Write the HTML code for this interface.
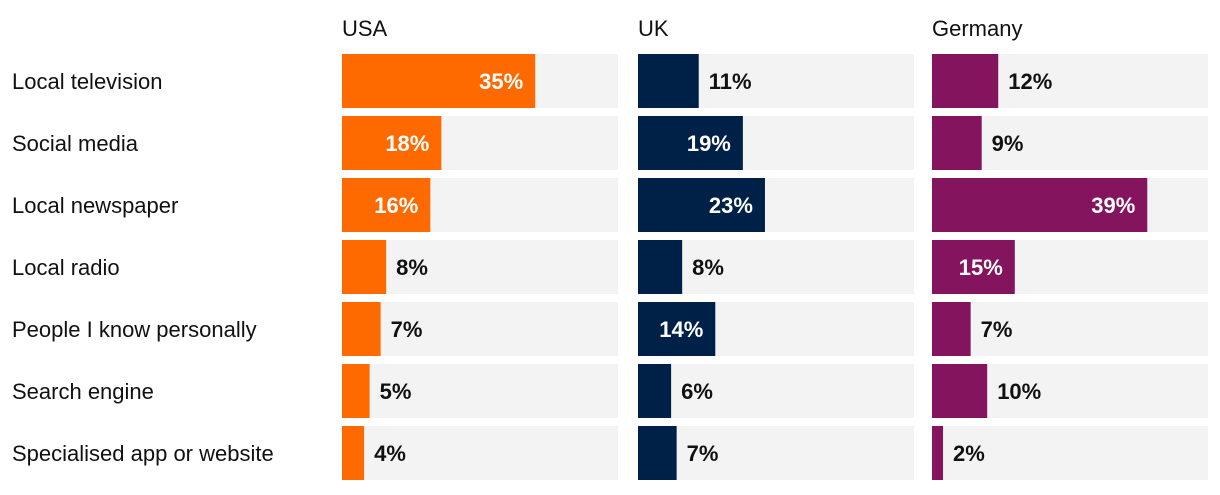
<!DOCTYPE html>
<html><head><meta charset="utf-8"><style>
body{margin:0;background:#fff;width:1220px;height:490px;overflow:hidden;font-family:"Liberation Sans",sans-serif}
svg text{font-family:"Liberation Sans",sans-serif}
</style></head><body>
<svg id="c" width="1220" height="490"></svg>
<script>
const categories=["Local television","Social media","Local newspaper","Local radio","People I know personally","Search engine","Specialised app or website"];
const countries=["USA","UK","Germany"];
const usaValues=[35,18,16,8,7,5,4];
const ukValues=[11,19,23,8,14,6,7];
const germanyValues=[12,9,39,15,7,10,2];
const colors=["#ff6a00","#002147","#84145d"];
const series=[usaValues,ukValues,germanyValues];
const NS="http://www.w3.org/2000/svg";
const svg=document.getElementById('c');
const panelX=[342,638,932],panelW=276,maxV=50;
const rowY=i=>54+i*62,rowH=54;
const xs=v=>v/maxV*panelW;
function mk(t,a){const e=document.createElementNS(NS,t);for(const k in a)e.setAttribute(k,a[k]);svg.appendChild(e);return e;}
categories.forEach((c,i)=>{
 const t=mk('text',{x:12,y:rowY(i)+rowH/2+8,'font-size':22,fill:'#111'});
 
 
 t.textContent=c;
});
countries.forEach((n,p)=>{
 const h=mk('text',{x:panelX[p],y:36,'font-size':22,fill:'#111'});
 
 
 h.textContent=n;
 series[p].forEach((v,i)=>{
  const bg=mk('rect',{x:panelX[p],y:rowY(i),width:panelW,height:rowH,fill:'#f3f3f3'});
  
  
  const w=xs(v);
  const b=mk('rect',{x:panelX[p],y:rowY(i),width:w,height:rowH,fill:colors[p]});
  
  
  const inside=v>=13;
  const t=mk('text',{x:inside?panelX[p]+w-12:panelX[p]+w+10,y:rowY(i)+rowH/2+8,'font-size':22,'font-weight':'bold','text-anchor':inside?'end':'start',fill:inside?'#fff':'#111'});
  
  
  t.textContent=v+'%';
 });
});
</script>
</body></html>
